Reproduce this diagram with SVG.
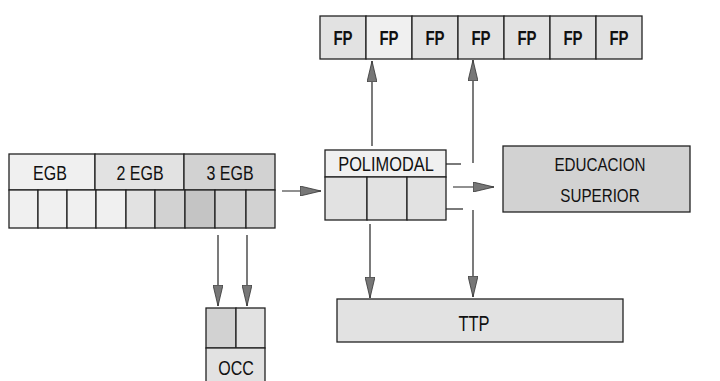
<svg xmlns="http://www.w3.org/2000/svg" width="720" height="381" viewBox="0 0 720 381">
<style>
.b{stroke:#222;stroke-width:1.3;}
.t{font-family:"Liberation Sans",Arial,sans-serif;fill:#111;text-anchor:middle;}
.c{stroke:#222;stroke-width:1.2;fill:none;}
.l1{fill:#f0f0f0}.l2{fill:#e2e2e2}.l3{fill:#d2d2d2}.l4{fill:#c4c4c4}
</style>
<defs>
<marker id="ah" markerWidth="22" markerHeight="10" refX="21" refY="5" orient="auto" markerUnits="userSpaceOnUse">
<path d="M0,0 L21,5 L0,10 Z" fill="#777" stroke="#333" stroke-width="0.8"/>
</marker>
</defs>
<rect width="720" height="381" fill="#fff"/>

<g id="fp">
<rect class="b l2" x="320" y="16" width="46" height="43"/>
<rect class="b l1" x="366" y="16" width="46" height="43"/>
<rect class="b l2" x="412" y="16" width="46" height="43"/>
<rect class="b l2" x="458" y="16" width="46" height="43"/>
<rect class="b l2" x="504" y="16" width="46" height="43"/>
<rect class="b l2" x="550" y="16" width="46" height="43"/>
<rect class="b l2" x="596" y="16" width="46" height="43"/>
<g class="t" font-size="20" font-weight="bold">
<text transform="translate(343,45) scale(0.75,1)">FP</text>
<text transform="translate(389,45) scale(0.75,1)">FP</text>
<text transform="translate(435,45) scale(0.75,1)">FP</text>
<text transform="translate(481,45) scale(0.75,1)">FP</text>
<text transform="translate(527,45) scale(0.75,1)">FP</text>
<text transform="translate(573,45) scale(0.75,1)">FP</text>
<text transform="translate(619,45) scale(0.75,1)">FP</text>
</g>
</g>

<g id="egb">
<rect class="b l1" x="9" y="154" width="86" height="36"/>
<rect class="b l2" x="95" y="154" width="89" height="36"/>
<rect class="b l3" x="184" y="154" width="91" height="36"/>
<rect class="b l1" x="9" y="190" width="29" height="38"/>
<rect class="b l1" x="38" y="190" width="29" height="38"/>
<rect class="b l1" x="67" y="190" width="29" height="38"/>
<rect class="b l1" x="96" y="190" width="30" height="38"/>
<rect class="b l2" x="126" y="190" width="29" height="38"/>
<rect class="b l3" x="155" y="190" width="30" height="38"/>
<rect class="b l4" x="185" y="190" width="30" height="38"/>
<rect class="b l3" x="215" y="190" width="31" height="38"/>
<rect class="b l3" x="246" y="190" width="29" height="38"/>
<g class="t" font-size="20">
<text transform="translate(50,180) scale(0.8,1)">EGB</text>
<text transform="translate(140,180) scale(0.8,1)">2 EGB</text>
<text transform="translate(230,180) scale(0.8,1)">3 EGB</text>
</g>
</g>

<g id="polimodal">
<rect class="b l1" x="325" y="150" width="121" height="27"/>
<rect class="b l2" x="325" y="177" width="42" height="43"/>
<rect class="b l2" x="367" y="177" width="40" height="43"/>
<rect class="b l2" x="407" y="177" width="39" height="43"/>
<text class="t" font-size="20" transform="translate(386,171) scale(0.82,1)">POLIMODAL</text>
</g>

<g id="educacion">
<rect class="b l3" x="503" y="146" width="187" height="66"/>
<text class="t" font-size="19" transform="translate(600,171) scale(0.8,1)">EDUCACION</text>
<text class="t" font-size="19" transform="translate(600,202) scale(0.8,1)">SUPERIOR</text>
</g>

<g id="ttp">
<rect class="b l2" x="337" y="299" width="286" height="43"/>
<text class="t" font-size="22" transform="translate(474,331) scale(0.75,1)">TTP</text>
</g>

<g id="occ">
<rect class="b l3" x="206" y="308" width="30" height="40"/>
<rect class="b l2" x="236" y="308" width="29" height="40"/>
<rect class="b l2" x="206" y="348" width="59" height="36"/>
<text class="t" font-size="20" transform="translate(236,375) scale(0.8,1)">OCC</text>
</g>

<g id="connectors">
<line class="c" x1="282" y1="191" x2="321" y2="191" marker-end="url(#ah)"/>
<line class="c" x1="446" y1="164" x2="461" y2="164"/>
<line class="c" x1="453" y1="187" x2="494" y2="187" marker-end="url(#ah)"/>
<line class="c" x1="446" y1="209" x2="463" y2="209"/>
<line class="c" x1="372" y1="146" x2="372" y2="61" marker-end="url(#ah)"/>
<line class="c" x1="473" y1="163" x2="473" y2="60" marker-end="url(#ah)"/>
<line class="c" x1="370" y1="224" x2="370" y2="298" marker-end="url(#ah)"/>
<line class="c" x1="473" y1="210" x2="473" y2="297" marker-end="url(#ah)"/>
<line class="c" x1="218" y1="235" x2="218" y2="306" marker-end="url(#ah)"/>
<line class="c" x1="247" y1="235" x2="247" y2="306" marker-end="url(#ah)"/>
</g>
</svg>
